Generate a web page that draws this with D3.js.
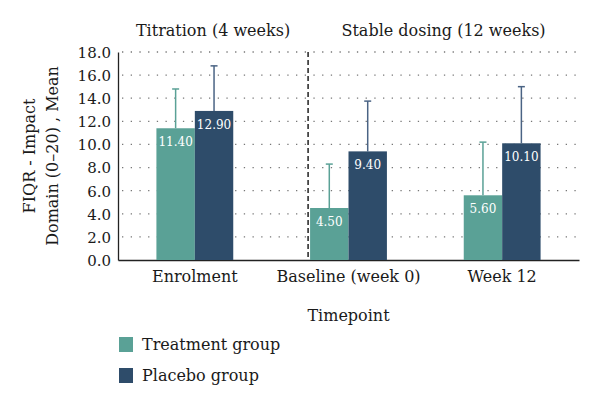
<!DOCTYPE html>
<html>
<head>
<meta charset="utf-8">
<script src="https://cdn.jsdelivr.net/npm/d3@7"></script>
<style>
  body { margin: 0; background: #fff; }
  svg text { font-family: "DejaVu Serif", "Liberation Serif", serif; fill: #1a1a1a; }
</style>
</head>
<body>
<svg id="chart" width="600" height="407"></svg>
<script>
// data
var timepoints = ["Enrolment", "Baseline (week 0)", "Week 12"];
var groups = ["Treatment group", "Placebo group"];
var treatmentMean = [11.4, 4.5, 5.6];
var placeboMean = [12.9, 9.4, 10.1];
var treatmentErrTop = [14.8, 8.3, 10.2];
var placeboErrTop = [16.8, 13.75, 15.0];
var yTicks = [0, 2, 4, 6, 8, 10, 12, 14, 16, 18];
var phases = ["Titration (4 weeks)", "Stable dosing (12 weeks)"];

var colours = ["#5aa196", "#2e4c6a"];
var errColours = ["#5aa196", "#4a6384"];

var svg = d3.select("#chart"),
  plotL = 118, plotR = 579, plotT = 52, plotB = 260;

var x = d3.scaleBand().domain(timepoints).range([plotL, plotR])
  .paddingInner(0.5).paddingOuter(0.25);
var xIn = d3.scaleBand().domain(groups).range([0, x.bandwidth()]);
var y = d3.scaleLinear().domain([0, 18]).range([plotB, plotT]);

// dotted grid
svg.append("g")
  .selectAll("line")
  .data(yTicks.slice(1))
  .join("line")
  .attr("x1", plotL + 4)
  .attr("x2", plotR)
  .attr("y1", d => y(d))
  .attr("y2", d => y(d))
  .attr("stroke", "#777")
  .attr("stroke-width", 1.3)
  .attr("stroke-dasharray", "1.3,7.4");

// y axis
var yAxis = svg.append("g")
  .attr("transform", "translate(" + plotL + ",0)")
  .call(d3.axisLeft(y).tickValues(yTicks).tickFormat(d3.format(".1f")).tickSize(0).tickPadding(7));
yAxis.select(".domain").attr("stroke", "#222").attr("stroke-width", 1.3);
yAxis.selectAll("text").style("font-size", "15px").attr("dy", "0.36em");

// x axis
var xAxis = svg.append("g")
  .attr("transform", "translate(0," + plotB + ")")
  .call(d3.axisBottom(x).tickSize(0).tickPadding(11).tickSizeOuter(0));
xAxis.select(".domain").attr("stroke", "#222").attr("stroke-width", 1.3);
xAxis.selectAll("text").style("font-size", "16px");

// phase divider
var divX = x(timepoints[1]) - 2;
svg.append("line")
  .attr("x1", divX).attr("x2", divX)
  .attr("y1", plotT).attr("y2", plotB)
  .attr("stroke", "#111")
  .attr("stroke-width", 1.4)
  .attr("stroke-dasharray", "5,3");

// phase titles
svg.selectAll(".phase")
  .data(phases)
  .join("text")
  .attr("class", "phase")
  .attr("x", (d, i) => i == 0 ? (plotL + divX) / 2 : (divX + plotR) / 2)
  .attr("y", 36)
  .attr("text-anchor", "middle")
  .style("font-size", "16px")
  .text(d => d);

var series = [treatmentMean, placeboMean];
var errs = [treatmentErrTop, placeboErrTop];

groups.forEach((g, gi) => {
  var cx = (d, i) => x(timepoints[i]) + xIn(g) + xIn.bandwidth() / 2;

  // error bars (upper only)
  var eb = svg.append("g").attr("stroke", errColours[gi]).attr("stroke-width", 1.5);
  eb.selectAll(".stem")
    .data(series[gi])
    .join("line")
    .attr("x1", cx).attr("x2", cx)
    .attr("y1", d => y(d))
    .attr("y2", (d, i) => y(errs[gi][i]));
  eb.selectAll(".cap")
    .data(errs[gi])
    .join("line")
    .attr("x1", (d, i) => cx(d, i) - 3.5)
    .attr("x2", (d, i) => cx(d, i) + 3.5)
    .attr("y1", d => y(d))
    .attr("y2", d => y(d));

  svg.append("g")
    .selectAll("rect")
    .data(series[gi])
    .join("rect")
    .attr("x", (d, i) => x(timepoints[i]) + xIn(g))
    .attr("y", d => y(d))
    .attr("width", xIn.bandwidth())
    .attr("height", d => plotB - y(d))
    .attr("fill", colours[gi]);

  svg.append("g")
    .selectAll("text")
    .data(series[gi])
    .join("text")
    .attr("x", cx)
    .attr("y", d => y(d) + 18)
    .attr("text-anchor", "middle")
    .style("font-size", "12px")
    .style("fill", "#fff")
    .text(d => d.toFixed(2));
});

// axis titles
svg.append("text")
  .attr("transform", "translate(35," + (plotT + plotB) / 2 + ") rotate(-90)")
  .attr("text-anchor", "middle")
  .style("font-size", "16px")
  .text("FIQR - Impact");
svg.append("text")
  .attr("transform", "translate(58," + (plotT + plotB) / 2 + ") rotate(-90)")
  .attr("text-anchor", "middle")
  .style("font-size", "16px")
  .text("Domain (0\u201320) , Mean");

svg.append("text")
  .attr("x", (plotL + plotR) / 2)
  .attr("y", 321)
  .attr("text-anchor", "middle")
  .style("font-size", "16px")
  .text("Timepoint");

// legend
var legend = svg.append("g")
  .selectAll("g")
  .data(groups)
  .join("g")
  .attr("transform", (d, i) => "translate(119," + (337 + i * 31) + ")");
legend.append("rect")
  .attr("width", 14).attr("height", 15)
  .attr("fill", (d, i) => colours[i]);
legend.append("text")
  .attr("x", 23).attr("y", 13)
  .style("font-size", "16px")
  .text(d => d);
</script>
</body>
</html>
